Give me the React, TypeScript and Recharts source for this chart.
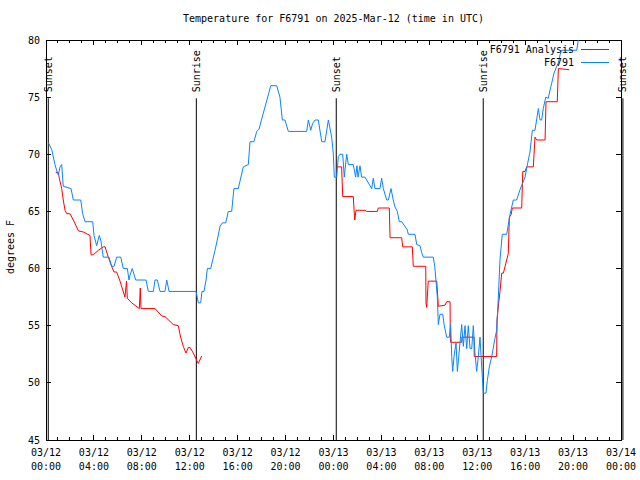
import React from 'react';
import { LineChart, Line, XAxis, YAxis, ReferenceLine, ReferenceArea, Legend } from 'recharts';

const FONT = 'DejaVu Sans Mono, monospace';
const PLOT_LEFT = 46;
const PLOT_RIGHT = 621;
const PLOT_TOP = 40;
const PLOT_BOTTOM = 440;

// hours since 03/12 00:00 UTC
const hourTicks = Array.from({ length: 49 }, (_, i) => i);
const dayLabels = ['03/12', '03/12', '03/12', '03/12', '03/12', '03/12', '03/13', '03/13', '03/13', '03/13', '03/13', '03/13', '03/14'];
const timeLabels = ['00:00', '04:00', '08:00', '12:00', '16:00', '20:00', '00:00', '04:00', '08:00', '12:00', '16:00', '20:00', '00:00'];
const yTicks = [45, 50, 55, 60, 65, 70, 75, 80];
const seriesNames = ['F6791 Analysis', 'F6791'];

const analysisHours = [
  0.81, 1.03, 1.11, 1.31, 1.44, 1.59, 1.73, 2.0, 2.28, 2.7, 3.11, 3.67, 3.76, 3.95, 4.37, 4.78, 4.93, 5.2, 5.48,
  5.68, 5.9, 6.18, 6.59, 6.72, 6.79, 7.15, 7.79, 7.87, 7.93, 9.1, 9.66, 9.93, 10.63, 11.04, 11.24, 11.46, 11.69,
  11.88, 12.02, 12.3, 12.52, 12.71, 13.0, 18.0,
  24.27, 24.68, 24.77, 25.65, 25.71, 25.77, 25.88, 26.63, 26.77, 27.66, 27.74, 28.66, 28.72, 29.69, 29.78, 30.58,
  30.66, 31.7, 31.72, 31.78, 31.91, 32.62, 32.75, 33.31, 33.45, 33.73, 33.75, 33.78, 34.7, 34.72, 35.73, 35.75,
  37.62, 37.65, 37.76, 37.9, 38.04, 38.18, 38.59, 38.68, 38.82, 38.93, 39.71, 39.8, 39.99, 40.13, 40.68, 40.82,
  40.96, 41.66, 41.74, 42.68, 42.77, 43.68,
];
const analysisTemps = [
  68.4, 68.4, 67.9, 67, 66, 65.1, 64.8, 64.8, 64.25, 63.3, 63.2, 62.9, 61.2, 61.2, 61.6, 61.9, 61.9, 61, 60.2,
  59.7, 59.7, 58.9, 57.5, 58.9, 57.4, 57, 56.5, 58.3, 56.5, 56.5, 55.85, 55.8, 55.1, 55, 54, 53.2, 52.6,
  53.1, 53.1, 52.6, 52.1, 51.7, 52.35, null,
  68.9, 68.9, 66.3, 66.3, 65.3, 64.25, 65.1, 65.1, 65, 65, 65.3, 65.3, 62.7, 62.7, 61.9, 61.9,
  60.2, 60.2, 57, 56.6, 58.9, 58.9, 56.7, 56.8, 57.1, 57.1, 54, 53.55, 53.55, 54, 54, 52.3,
  52.3, 55.5, 56.7, 58, 59.6, 59.6, 61.3, 64.5, 64.7, 65.3, 65.3, 68.5, 68.5, 68.9, 68.9, 71.5,
  71.25, 71.25, 74.6, 74.6, 77.5, 77.4,
];

const obsHours = [
  0.21, 0.48, 0.75, 0.94, 1.03, 1.17, 1.31, 1.44, 2.09, 2.28, 2.9, 3.06, 3.26, 3.9, 4.01, 4.23, 4.45, 4.59, 4.78,
  5.26, 5.48, 5.68, 5.9, 6.24, 6.45, 6.79, 6.93, 7.01, 7.2, 7.49, 8.35, 8.54, 8.96, 9.1, 9.29, 9.52, 9.93, 10.08,
  10.27, 12.52, 12.63, 12.71, 12.91, 13.02, 13.19, 13.36, 13.47, 13.75, 13.97, 14.11, 14.3, 14.53, 14.72, 15.0,
  15.22, 15.5, 15.69, 16.05, 16.47, 16.89, 17.03, 17.36, 17.59, 17.78, 18.14, 18.56, 18.76, 19.26, 19.53, 19.73,
  19.95, 20.23, 21.76, 21.9, 22.1, 22.26, 22.46, 22.73, 23.02, 23.29, 23.57, 23.85, 23.98, 24.07, 24.27, 24.4,
  24.54, 24.77, 24.9, 25.1, 25.24, 25.65, 25.85, 25.96, 26.05, 26.21, 26.35, 26.63, 27.19, 27.32, 27.46, 27.88,
  28.02, 28.16, 28.44, 28.58, 28.8, 28.99, 29.13, 29.33, 29.49, 29.69, 30.16, 30.24, 30.8, 30.95, 31.22, 31.36,
  31.5, 32.33, 32.45, 32.56, 32.67, 32.75, 32.89, 33.12, 33.23, 33.45, 33.67, 33.78, 33.87, 33.95, 34.06, 34.23,
  34.34, 34.56, 34.7, 34.84, 34.98, 35.12, 35.25, 35.4, 35.54, 35.67, 35.81, 35.95, 36.09, 36.23, 36.37, 36.51,
  36.73, 36.84, 37.01, 37.21, 37.48, 37.62, 37.76, 37.9, 38.09, 38.46, 38.73, 39.01, 39.29, 39.57, 39.8, 39.99,
  40.13, 40.4, 40.6, 40.82, 41.1, 41.24, 41.38, 41.51, 41.72, 41.93, 42.07, 42.21, 42.41, 42.63, 42.77, 42.91,
  43.05, 44.3, 44.44, 44.75, 45.41,
];
const obsTemps = [
  71, 70.4, 69.1, 68.4, 68.2, 68.9, 69.1, 67.2, 67, 66, 66, 64.8, 64.1, 64.1, 62.9, 62, 62.9, 62.4, 61,
  61, 60.2, 60.2, 61, 61, 60, 60, 59, 59.4, 60, 59, 59, 58, 58, 59, 59, 58, 58, 59,
  58, 58, 57.5, 57, 57, 58, 58, 59, 60, 60, 61, 61.6, 62.5, 63.7, 64, 64,
  65, 65, 67, 67, 68.9, 69.1, 71.1, 71.1, 72, 72.2, 73.6, 75.2, 76, 76, 75, 73,
  73, 72, 72, 73, 72.1, 72.7, 73, 73, 71.1, 71.1, 73, 71.5, 70.1, 68, 68, 69.8,
  70, 70, 68, 70, 69.1, 69.1, 68, 69, 68, 69, 68, 68, 67, 67.9, 67, 67,
  67.9, 67, 66, 66, 67, 66, 65.4, 65, 64.1, 64.1, 63.4, 63, 63, 62.1, 62, 61.4,
  61, 61, 60.2, 58.9, 57.5, 55.1, 56, 56, 55.1, 54, 54, 55.1, 52.3, 51, 52.3, 53.5,
  51, 53.5, 55.1, 53.2, 55, 53, 55, 53, 53, 55, 52.6, 51, 52.3, 54, 51.4, 49.1,
  49.1, 50.2, 51.4, 52.3, 53.9, 54.6, 57.5, 60.8, 63, 63, 64.7, 66, 66, 66.9, 67.5, 68,
  68.8, 70.2, 72.1, 72.1, 74, 73, 73, 74, 75, 74.9, 75.6, 76.2, 77.1, 77.7, 78, 78.7,
  79.1, 79.1, 80, 80.6, 81,
];

const sunHours = [0.19, 12.55, 24.23, 36.5, 48.16];
const sunLabels = ['Sunset', 'Sunrise', 'Sunset', 'Sunrise', 'Sunset'];
const SUN_LINE_TOP = 74.9;

const analysisData = analysisHours.map((t, i) => ({ t, v: analysisTemps[i] }));
const obsData = obsHours.map((t, i) => ({ t, v: obsTemps[i] }));

const XTick = (props: any) => {
  const { x, payload } = props;
  const h = payload.value;
  const major = h % 4 === 0;
  const len = major ? 5 : 3;
  const idx = h / 4;
  return (
    <g>
      <line x1={x} x2={x} y1={PLOT_BOTTOM} y2={PLOT_BOTTOM - len} stroke="#000" shapeRendering="crispEdges" />
      <line x1={x} x2={x} y1={PLOT_TOP} y2={PLOT_TOP + len} stroke="#000" shapeRendering="crispEdges" />
      {major && (
        <>
          <text x={x} y={452} dy="0.35em" textAnchor="middle" fontFamily={FONT} fontSize={10} fill="#000">
            {dayLabels[idx]}
          </text>
          <text x={x} y={466} dy="0.35em" textAnchor="middle" fontFamily={FONT} fontSize={10} fill="#000">
            {timeLabels[idx]}
          </text>
        </>
      )}
    </g>
  );
};

const YTick = (props: any) => {
  const { y, payload } = props;
  return (
    <g>
      <line x1={PLOT_LEFT} x2={PLOT_LEFT + 5} y1={y} y2={y} stroke="#000" shapeRendering="crispEdges" />
      <line x1={PLOT_RIGHT} x2={PLOT_RIGHT - 5} y1={y} y2={y} stroke="#000" shapeRendering="crispEdges" />
      <text x={40} y={y} dy="0.35em" textAnchor="end" fontFamily={FONT} fontSize={10} fill="#000">
        {payload.value}
      </text>
    </g>
  );
};

const SunLabel = (props: any) => {
  const { viewBox, text } = props;
  const x = viewBox.x;
  const y = viewBox.y - 6;
  return (
    <text
      x={x}
      y={y}
      dy="0.35em"
      transform={`rotate(-90 ${x} ${y})`}
      textAnchor="start"
      fontFamily={FONT}
      fontSize={10}
      fill="#000"
    >
      {text}
    </text>
  );
};

const renderLegend = (props: any) => {
  const items = [...(props.payload || [])].sort(
    (a: any, b: any) => seriesNames.indexOf(a.value) - seriesNames.indexOf(b.value)
  );
  return (
    <svg width={170} height={32}>
      {items.map((item: any, i: number) => (
        <g key={item.value}>
          <text x={104} y={9 + i * 13.5} dy="0.35em" textAnchor="end" fontFamily={FONT} fontSize={10} fill="#000">
            {item.value}
          </text>
          <line x1={111} x2={139} y1={9 + i * 13.5} y2={9 + i * 13.5} stroke={item.color} shapeRendering="crispEdges" />
        </g>
      ))}
    </svg>
  );
};

export default function App() {
  return (
    <div style={{ position: 'absolute', left: 0, top: 0, width: 640, height: 480, background: '#fff' }}>
      <div
        style={{
          position: 'absolute',
          left: PLOT_LEFT,
          width: PLOT_RIGHT - PLOT_LEFT,
          top: 13,
          lineHeight: '12px',
          textAlign: 'center',
          fontFamily: FONT,
          fontSize: 10,
          color: '#000',
        }}
      >
        Temperature for F6791 on 2025-Mar-12 (time in UTC)
      </div>
      <LineChart width={640} height={480} margin={{ top: 40, right: 19, left: 0, bottom: 0 }}>
        <XAxis
          type="number"
          dataKey="t"
          domain={[0, 48]}
          ticks={hourTicks}
          interval={0}
          height={40}
          axisLine={false}
          tickLine={false}
          tick={<XTick />}
          allowDataOverflow
        />
        <YAxis
          type="number"
          domain={[45, 80]}
          ticks={yTicks}
          width={46}
          axisLine={false}
          tickLine={false}
          tick={<YTick />}
          allowDataOverflow
          label={() => (
            <text
              x={10}
              y={247}
              dy="0.35em"
              transform="rotate(-90 10 247)"
              textAnchor="middle"
              fontFamily={FONT}
              fontSize={10}
              fill="#000"
            >
              degrees F
            </text>
          )}
        />
        {sunHours.map((h, i) => (
          <ReferenceLine
            key={i}
            segment={[
              { x: h, y: 45 },
              { x: h, y: SUN_LINE_TOP },
            ]}
            stroke="#000"
            strokeWidth={1}
            ifOverflow="visible"
            label={<SunLabel text={sunLabels[i]} />}
          />
        ))}
        <Line
          data={analysisData}
          dataKey="v"
          name={seriesNames[0]}
          stroke="#ff0000"
          strokeWidth={1}
          dot={false}
          activeDot={false}
          isAnimationActive={false}
        />
        <Line
          data={obsData}
          dataKey="v"
          name={seriesNames[1]}
          stroke="#0a84ff"
          strokeWidth={1}
          dot={false}
          activeDot={false}
          isAnimationActive={false}
        />
        <ReferenceArea
          x1={0}
          x2={48}
          y1={45}
          y2={80}
          fill="none"
          fillOpacity={0}
          stroke="#000"
          strokeWidth={1}
          shapeRendering="crispEdges"
        />
        <Legend
          layout="vertical"
          align="center"
          verticalAlign="middle"
          content={renderLegend}
          wrapperStyle={{ position: 'absolute', left: 470, top: 40, width: 170, height: 32 }}
        />
      </LineChart>
    </div>
  );
}
